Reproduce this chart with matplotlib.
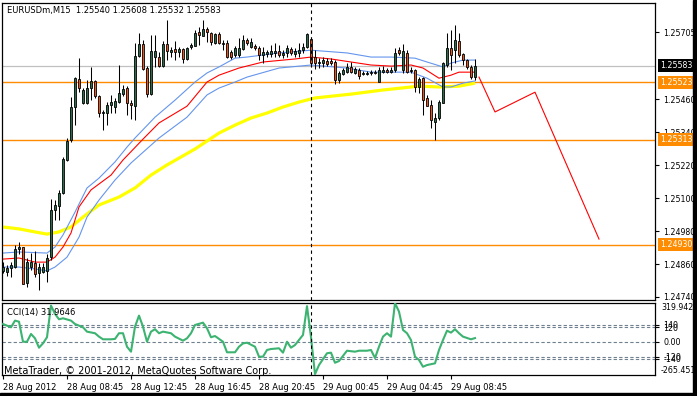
import numpy as np
import matplotlib
matplotlib.use("Agg")
import matplotlib.pyplot as plt
from matplotlib.patches import Rectangle
import matplotlib.transforms as mtransforms

W, H = 697, 396

# ---------------- data ----------------
open_ = [1.24835,1.24831,1.24845,1.24849,1.24915,1.24922,1.24791,1.24849,1.24864,1.24827,
         1.24831,1.24835,1.24886,1.25057,1.25071,1.25119,1.25239,1.25312,1.25432,1.25534,
         1.25446,1.25446,1.25501,1.25527,1.25472,1.25410,1.25410,1.25439,1.25432,1.25450,
         1.25479,1.25501,1.25446,1.25435,1.25618,1.25661,1.25574,1.25479,1.25614,1.25614,
         1.25581,1.25661,1.25632,1.25643,1.25632,1.25643,1.25607,1.25650,1.25654,1.25705,
         1.25690,1.25716,1.25701,1.25665,1.25698,1.25661,1.25665,1.25632,1.25621,1.25621,
         1.25643,1.25676,1.25650,1.25654,1.25647,1.25621,1.25625,1.25625,1.25629,1.25636,
         1.25621,1.25629,1.25643,1.25625,1.25629,1.25639,1.25650,1.25680,1.25614,1.25592,
         1.25592,1.25599,1.25599,1.25596,1.25530,1.25552,1.25559,1.25578,1.25556,1.25567,
         1.25552,1.25552,1.25556,1.25559,1.25523,1.25559,1.25567,1.25559,1.25567,1.25639,
         1.25567,1.25629,1.25563,1.25567,1.25505,1.25537,1.25465,1.25439,1.25377,1.25392,
         1.25446,1.25585,1.25647,1.25639,1.25672,1.25625,1.25603,1.25578,1.25540]
high = [1.24867,1.24856,1.24867,1.24929,1.24940,1.24922,1.24882,1.24900,1.24907,1.24864,
        1.24864,1.24896,1.25097,1.25093,1.25130,1.25250,1.25319,1.25468,1.25541,1.25610,
        1.25501,1.25530,1.25578,1.25530,1.25476,1.25421,1.25450,1.25476,1.25465,1.25585,
        1.25512,1.25508,1.25457,1.25665,1.25701,1.25676,1.25581,1.25694,1.25694,1.25632,
        1.25672,1.25749,1.25650,1.25672,1.25650,1.25647,1.25650,1.25665,1.25712,1.25723,
        1.25749,1.25723,1.25705,1.25701,1.25705,1.25676,1.25676,1.25639,1.25654,1.25683,
        1.25694,1.25683,1.25683,1.25661,1.25654,1.25650,1.25639,1.25658,1.25665,1.25658,
        1.25639,1.25658,1.25650,1.25647,1.25665,1.25665,1.25701,1.25683,1.25639,1.25610,
        1.25614,1.25610,1.25610,1.25603,1.25563,1.25574,1.25592,1.25596,1.25578,1.25574,
        1.25563,1.25563,1.25567,1.25567,1.25578,1.25581,1.25574,1.25578,1.25647,1.25650,
        1.25661,1.25639,1.25578,1.25570,1.25541,1.25541,1.25476,1.25457,1.25410,1.25457,
        1.25596,1.25701,1.25712,1.25730,1.25701,1.25629,1.25607,1.25585,1.25608]
low = [1.24827,1.24816,1.24813,1.24845,1.24896,1.24787,1.24776,1.24838,1.24813,1.24765,
       1.24827,1.24795,1.24875,1.25020,1.25020,1.25115,1.25235,1.25304,1.25366,1.25486,
       1.25443,1.25443,1.25457,1.25465,1.25395,1.25348,1.25366,1.25410,1.25410,1.25446,
       1.25472,1.25403,1.25388,1.25385,1.25614,1.25567,1.25468,1.25476,1.25578,1.25578,
       1.25578,1.25603,1.25614,1.25603,1.25614,1.25592,1.25603,1.25643,1.25654,1.25658,
       1.25690,1.25669,1.25658,1.25661,1.25661,1.25639,1.25610,1.25607,1.25614,1.25614,
       1.25639,1.25658,1.25647,1.25639,1.25603,1.25592,1.25614,1.25614,1.25614,1.25614,
       1.25610,1.25614,1.25621,1.25614,1.25614,1.25629,1.25647,1.25578,1.25570,1.25574,
       1.25578,1.25581,1.25585,1.25516,1.25519,1.25548,1.25556,1.25556,1.25552,1.25534,
       1.25548,1.25548,1.25548,1.25552,1.25523,1.25556,1.25556,1.25556,1.25559,1.25621,
       1.25556,1.25556,1.25556,1.25486,1.25483,1.25403,1.25435,1.25355,1.25312,1.25385,
       1.25446,1.25578,1.25567,1.25592,1.25614,1.25585,1.25570,1.25534,1.25532]
close = [1.24849,1.24845,1.24856,1.24915,1.24922,1.24787,1.24867,1.24867,1.24824,1.24849,
         1.24849,1.24882,1.25057,1.25075,1.25119,1.25242,1.25308,1.25432,1.25537,1.25501,
         1.25494,1.25501,1.25527,1.25472,1.25410,1.25414,1.25439,1.25450,1.25454,1.25483,
         1.25497,1.25446,1.25439,1.25618,1.25661,1.25570,1.25479,1.25636,1.25636,1.25581,
         1.25661,1.25636,1.25639,1.25632,1.25643,1.25607,1.25647,1.25658,1.25701,1.25694,
         1.25716,1.25705,1.25669,1.25698,1.25665,1.25665,1.25614,1.25614,1.25647,1.25647,
         1.25676,1.25665,1.25669,1.25647,1.25621,1.25632,1.25632,1.25636,1.25636,1.25621,
         1.25629,1.25647,1.25629,1.25636,1.25639,1.25650,1.25698,1.25592,1.25592,1.25596,
         1.25603,1.25588,1.25592,1.25530,1.25556,1.25567,1.25578,1.25559,1.25570,1.25545,
         1.25556,1.25556,1.25559,1.25556,1.25567,1.25567,1.25559,1.25567,1.25629,1.25629,
         1.25636,1.25559,1.25567,1.25505,1.25534,1.25457,1.25435,1.25385,1.25392,1.25450,
         1.25592,1.25647,1.25621,1.25676,1.25621,1.25603,1.25578,1.25541,1.25583]

# moving averages (bar index, price)
yellow_bars = [0,4,8,11,14,17,20,24,29,33,37,41,48,54,58,62,66,70,74,78,87,95,104,109,114,118]
yellow_vals = [1.24995,1.24988,1.24977,1.24969,1.24977,1.24995,1.25031,1.25075,1.25104,1.25137,
               1.25184,1.25221,1.25279,1.25337,1.25366,1.25392,1.25410,1.25432,1.25450,1.25465,
               1.25479,1.25494,1.25508,1.25505,1.25508,1.25519]
red_bars = [0,4,8,11,13,15,17,19,22,27,30,35,39,46,51,54,59,65,73,77,82,87,92,97,102,105,109,112,114,118]
red_vals = [1.24878,1.24882,1.24867,1.24867,1.24885,1.24922,1.24973,1.25068,1.25130,1.25184,
            1.25239,1.25315,1.25374,1.25435,1.25523,1.25548,1.25574,1.25596,1.25607,1.25614,
            1.25607,1.25596,1.25585,1.25581,1.25585,1.25574,1.25537,1.25548,1.25559,1.25559]
upper_bars = [0,4,11,13,15,18,21,24,28,31,33,38,43,48,51,54,58,61,69,77,86,92,97,103,106,110,112,115,118]
upper_vals = [1.24900,1.24904,1.24900,1.24922,1.24966,1.25049,1.25137,1.25173,1.25232,1.25286,
              1.25319,1.25395,1.25457,1.25523,1.25556,1.25578,1.25610,1.25614,1.25629,1.25639,
              1.25629,1.25614,1.25614,1.25610,1.25596,1.25578,1.25592,1.25603,1.25603]
lower_bars = [0,4,8,11,13,16,19,21,24,28,32,39,46,51,54,58,61,69,77,86,92,97,102,106,110,112,115,118]
lower_vals = [1.24849,1.24849,1.24842,1.24835,1.24849,1.24885,1.24958,1.25031,1.25093,1.25166,
              1.25228,1.25319,1.25395,1.25476,1.25501,1.25523,1.25541,1.25574,1.25585,1.25574,
              1.25559,1.25559,1.25559,1.25537,1.25505,1.25505,1.25519,1.25527]

# projected zigzag
proj_bars = [119, 123, 133, 149]
proj_vals = [1.25541, 1.25414, 1.25486, 1.24951]

# horizontal levels
orange_levels = [1.25523, 1.25313, 1.24930]
bid_price = 1.25583

price_ticks = [1.24740, 1.24860, 1.24980, 1.25100, 1.25220, 1.25340, 1.25460, 1.25705]
price_tick_labels = ["1.24740", "1.24860", "1.24980", "1.25100", "1.25220", "1.25340", "1.25460", "1.25705"]

# CCI(14)
cci_bars = [0,2,3,4,5,6,7,8,9,10,11,12,13,14,15,17,18,20,21,23,24,25,27,28,29,30,31,32,33,34,35,36,37,38,39,40,
            42,43,45,46,47,48,50,51,52,53,55,56,58,59,60,61,63,64,65,66,67,69,70,71,72,73,75,76,77,78,79,81,82,
            83,84,86,88,89,91,92,93,94,95,96,97,98,99,100,101,102,103,104,105,106,108,109,110,111,112,113,114,115,117,118]
cci_vals = [148,121,176,167,2,2,66,30,-47,-11,39,300,231,187,195,176,148,121,85,72,44,22,22,25,72,72,-39,-80,126,217,
            126,2,85,105,72,85,72,44,11,30,72,140,159,113,39,49,2,-85,-85,-39,-12,-6,-39,-121,-121,-66,-58,-52,-88,2,
            -47,-25,58,295,40,-265.451,-190,-93,-88,-171,-157,-72,-80,-72,-72,-66,-132,-39,44,72,44,319.9421,250,99,
            72,16,-121,-148,-204,-190,-176,-66,16,93,77,105,72,44,22,31.9646]
cci_levels = [140, 120, 0, -120, -140]
cci_level_labels = ["140", "120", "0.00", "-120", "-140"]

xtick_bars = [0, 16, 32, 48, 64, 80, 96, 112]
xtick_labels = ["28 Aug 2012", "28 Aug 08:45", "28 Aug 12:45", "28 Aug 16:45",
                "28 Aug 20:45", "29 Aug 00:45", "29 Aug 04:45", "29 Aug 08:45"]
cursor_bar = 77

# ---------------- drawing ----------------
plt.rcParams['font.family'] = ['DejaVu Sans']
FS = 6
FSR = 5.7   # right-hand scale labels

fig = plt.figure(figsize=(W / 100, H / 100), dpi=100)
fig.patch.set_facecolor('white')

ax = fig.add_axes([2 / W, 1 - 300 / H, 653 / W, (300 - 2.7) / H])
ax2 = fig.add_axes([2 / W, 1 - 375 / H, 653 / W, 72 / H])

xlim = (-0.25, 163)
for a in (ax, ax2):
    a.set_xlim(*xlim)
    for s in a.spines.values():
        s.set_color('black')
        s.set_linewidth(0.9)

ax.set_ylim(1.24729, 1.25812)

# levels
ax.axhline(bid_price, color='#C0C0C0', lw=0.9, zorder=1)
for lv in orange_levels:
    ax.axhline(lv, color='#FF8C00', lw=1.0, zorder=1)

# candles
o = np.array(open_); h = np.array(high); l = np.array(low); c = np.array(close)
x = np.arange(len(o))
bull = c >= o
ax.vlines(x, l, h, color='black', lw=0.75, zorder=3)
body_lo = np.minimum(o, c)
body_h = np.maximum(np.abs(c - o), 0.000012)
ax.bar(x, body_h, bottom=body_lo, width=0.62,
       color=np.where(bull, '#2E6B4C', '#E8561E'), edgecolor='black', linewidth=0.6, zorder=4)

# moving averages
ax.plot(yellow_bars, yellow_vals, color='#FFFF00', lw=2.3, zorder=2, solid_capstyle='butt')
ax.plot(upper_bars, upper_vals, color='#6495ED', lw=0.8, zorder=2)
ax.plot(lower_bars, lower_vals, color='#6495ED', lw=0.8, zorder=2)
ax.plot(red_bars, red_vals, color='#FF0000', lw=0.8, zorder=2)
ax.plot(proj_bars, proj_vals, color='#FF0000', lw=0.8, zorder=2)

ax.axvline(cursor_bar, color='black', lw=0.8, ls=(0, (3, 3)), zorder=5)

# price axis
ax.set_xticks([])
ax.yaxis.tick_right()
ax.set_yticks(price_ticks)
ax.set_yticklabels(price_tick_labels)
ax.tick_params(axis='y', length=3, width=0.8, pad=3, labelsize=FSR, colors='black')

blend = mtransforms.blended_transform_factory(ax.transAxes, ax.transData)
box_labels = [(bid_price, "1.25583", 'black')] + [(lv, f"{lv:.5f}", '#FF8C00') for lv in orange_levels]
for val, txt, col in box_labels:
    ax.text(1 + 5 / 653, val, txt, transform=blend, ha='left', va='center', fontsize=FSR,
            color='white', zorder=10, clip_on=False,
            bbox=dict(boxstyle='square,pad=0.25', fc=col, ec='none'))

# CCI panel
ax2.set_ylim(-272, 321)
for lv in cci_levels:
    ax2.axhline(lv, color='#708090', lw=0.8, ls=(0, (3, 2)), zorder=1)
ax2.plot(cci_bars, cci_vals, color='#3CB371', lw=1.5, zorder=3)
ax2.axvline(cursor_bar, color='black', lw=0.8, ls=(0, (3, 3)), zorder=5)

ax2.yaxis.tick_right()
ax2.set_yticks(cci_levels)
ax2.set_yticklabels(cci_level_labels)
ax2.tick_params(axis='y', length=3, width=0.8, pad=3, labelsize=FSR, colors='black')
blend2 = mtransforms.blended_transform_factory(ax2.transAxes, ax2.transData)
ax2.text(1 + 6 / 653, 321, "319.9421", transform=blend2, ha='left', va='top', fontsize=FSR, clip_on=False)
ax2.text(1 + 6 / 653, -272, "-265.451", transform=blend2, ha='left', va='bottom', fontsize=FSR, clip_on=False)

ax2.set_xticks(xtick_bars)
ax2.set_xticklabels(xtick_labels, ha='left')
ax2.tick_params(axis='x', length=3, width=0.8, pad=3, labelsize=FS, colors='black')

# texts
def ftext(px, py, s, **kw):
    fig.text(px / W, 1 - py / H, s, **kw)

ftext(7, 11, "EURUSDm,M15  1.25540 1.25608 1.25532 1.25583", fontsize=FS, va='center', ha='left')
ftext(7, 313, "CCI(14) 31.9646", fontsize=FS, va='center', ha='left')
ftext(4, 371, "MetaTrader, \u00a9 2001-2012, MetaQuotes Software Corp.", fontsize=7, va='center', ha='left')

# black frame bands
fig.patches.append(Rectangle((693 / W, 0), 4 / W, 1, transform=fig.transFigure, color='black', zorder=20))
fig.patches.append(Rectangle((0, 0), 1, 3 / H, transform=fig.transFigure, color='black', zorder=20))

fig.savefig("out.png", dpi=100)
